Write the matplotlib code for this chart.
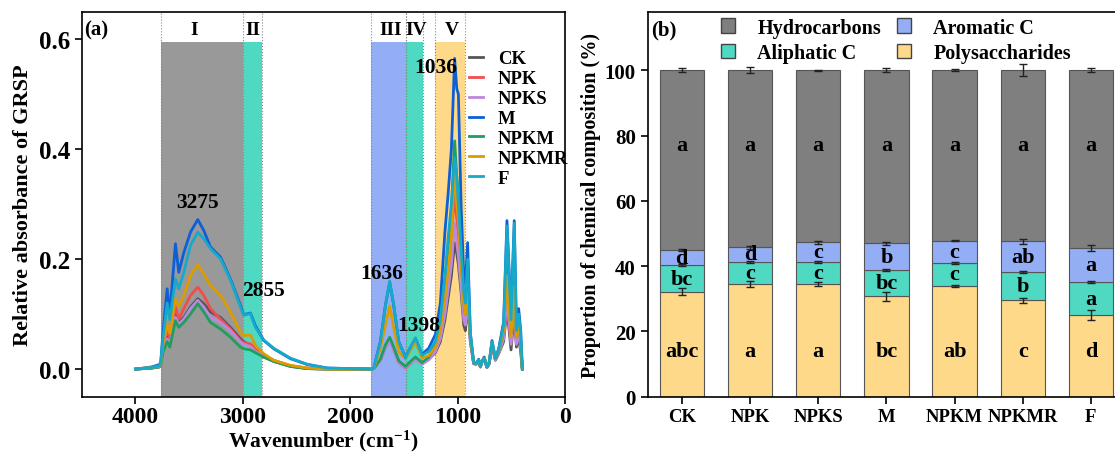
import matplotlib
matplotlib.use('Agg')
import matplotlib.pyplot as plt
from matplotlib.patches import Patch
import numpy as np

plt.rcParams['font.family'] = ['Liberation Serif', 'DejaVu Serif']
plt.rcParams['font.weight'] = 'bold'
plt.rcParams['axes.labelweight'] = 'bold'
plt.rcParams['mathtext.default'] = 'regular'

# ---------------- (a) FTIR spectra ----------------
wn = [4000, 3850, 3780, 3765, 3745, 3705, 3680, 3628, 3597, 3550,
      3488, 3420, 3364, 3302, 3209, 3116, 3023, 2992, 2930, 2884,
      2806, 2713, 2558, 2403, 2217, 1800, 1783, 1721, 1674, 1634,
      1597, 1550, 1488, 1440, 1395, 1333, 1271, 1209, 1163, 1120,
      1090, 1060, 1030, 1010, 995, 970, 945, 930, 909, 884,
      853, 830, 806, 790, 775, 754, 729, 710, 682, 651,
      620, 574, 543, 505, 475, 455, 434, 415, 400]

CK = [0, 0.002, 0.004, 0.006, 0.035, 0.060, 0.050, 0.101, 0.085, 0.094,
      0.113, 0.128, 0.119, 0.104, 0.094, 0.076, 0.055, 0.050, 0.043, 0.033,
      0.022, 0.014, 0.005, 0.001, 0.0, 0.0, 0.001, 0.016, 0.040, 0.054,
      0.037, 0.014, 0.004, 0.012, 0.018, 0.010, 0.018, 0.030, 0.050, 0.090,
      0.130, 0.170, 0.230, 0.210, 0.190, 0.140, 0.080, 0.070, 0.120, 0.050,
      0.010, 0.009, 0.015, 0.004, 0.013, 0.018, 0.003, 0.009, 0.042, 0.016,
      0.028, 0.050, 0.110, 0.035, 0.100, 0.040, 0.060, 0.030, 0.0]
NPK = [0, 0.002, 0.004, 0.007, 0.040, 0.070, 0.055, 0.113, 0.091, 0.110,
       0.134, 0.149, 0.134, 0.110, 0.091, 0.073, 0.052, 0.048, 0.046, 0.037,
       0.025, 0.016, 0.006, 0.002, 0.0, 0.0, 0.001, 0.016, 0.040, 0.052,
       0.036, 0.012, 0.002, 0.010, 0.018, 0.010, 0.018, 0.035, 0.060, 0.110,
       0.160, 0.220, 0.330, 0.270, 0.240, 0.170, 0.100, 0.090, 0.140, 0.055,
       0.010, 0.009, 0.015, 0.004, 0.013, 0.019, 0.003, 0.009, 0.045, 0.018,
       0.030, 0.060, 0.120, 0.050, 0.130, 0.050, 0.070, 0.045, 0.0]
NPKS = [0, 0.002, 0.004, 0.006, 0.033, 0.055, 0.046, 0.094, 0.082, 0.091,
        0.110, 0.125, 0.113, 0.094, 0.085, 0.070, 0.049, 0.045, 0.041, 0.032,
        0.025, 0.016, 0.006, 0.002, 0.0, 0.0, 0.001, 0.015, 0.038, 0.050,
        0.035, 0.012, 0.003, 0.011, 0.016, 0.009, 0.017, 0.032, 0.055, 0.100,
        0.145, 0.190, 0.265, 0.230, 0.205, 0.150, 0.090, 0.080, 0.130, 0.052,
        0.010, 0.009, 0.015, 0.004, 0.013, 0.018, 0.003, 0.009, 0.043, 0.017,
        0.029, 0.055, 0.130, 0.045, 0.120, 0.045, 0.065, 0.040, 0.0]
M = [0, 0.004, 0.008, 0.012, 0.065, 0.146, 0.100, 0.228, 0.176, 0.212,
     0.249, 0.272, 0.252, 0.222, 0.204, 0.164, 0.116, 0.099, 0.102, 0.079,
     0.052, 0.037, 0.019, 0.0085, 0.002, 0.0, 0.002, 0.050, 0.116, 0.158,
     0.116, 0.050, 0.022, 0.040, 0.055, 0.027, 0.038, 0.063, 0.120, 0.250,
     0.320, 0.400, 0.565, 0.510, 0.500, 0.300, 0.170, 0.155, 0.230, 0.067,
     0.013, 0.010, 0.018, 0.005, 0.015, 0.022, 0.004, 0.010, 0.052, 0.020,
     0.037, 0.086, 0.270, 0.100, 0.270, 0.080, 0.110, 0.070, 0.0]
NPKM = [0, 0.002, 0.004, 0.006, 0.030, 0.050, 0.040, 0.088, 0.076, 0.085,
        0.100, 0.119, 0.104, 0.085, 0.073, 0.058, 0.040, 0.037, 0.035, 0.030,
        0.022, 0.014, 0.005, 0.001, 0.0, 0.0, 0.001, 0.018, 0.044, 0.058,
        0.040, 0.015, 0.005, 0.014, 0.022, 0.012, 0.022, 0.045, 0.085, 0.160,
        0.220, 0.290, 0.415, 0.350, 0.320, 0.210, 0.120, 0.100, 0.160, 0.058,
        0.011, 0.010, 0.016, 0.005, 0.014, 0.020, 0.004, 0.010, 0.047, 0.019,
        0.033, 0.068, 0.190, 0.065, 0.170, 0.060, 0.085, 0.050, 0.0]
NPKMR = [0, 0.003, 0.005, 0.008, 0.045, 0.080, 0.065, 0.128, 0.113, 0.134,
         0.170, 0.190, 0.173, 0.152, 0.134, 0.104, 0.067, 0.061, 0.062, 0.043,
         0.028, 0.016, 0.007, 0.002, 0.0, 0.0, 0.001, 0.038, 0.080, 0.115,
         0.075, 0.032, 0.018, 0.035, 0.050, 0.020, 0.025, 0.040, 0.070, 0.130,
         0.180, 0.240, 0.370, 0.300, 0.270, 0.190, 0.120, 0.100, 0.150, 0.060,
         0.012, 0.010, 0.016, 0.005, 0.014, 0.020, 0.004, 0.010, 0.048, 0.020,
         0.034, 0.070, 0.170, 0.060, 0.150, 0.060, 0.080, 0.050, 0.0]
F = [0, 0.003, 0.006, 0.010, 0.055, 0.120, 0.090, 0.164, 0.146, 0.176,
     0.225, 0.249, 0.237, 0.219, 0.201, 0.162, 0.113, 0.098, 0.101, 0.076,
     0.053, 0.038, 0.020, 0.009, 0.002, 0.0, 0.002, 0.048, 0.115, 0.160,
     0.117, 0.050, 0.020, 0.040, 0.057, 0.025, 0.032, 0.050, 0.090, 0.170,
     0.240, 0.300, 0.385, 0.350, 0.300, 0.220, 0.140, 0.120, 0.200, 0.065,
     0.012, 0.010, 0.017, 0.005, 0.014, 0.020, 0.004, 0.010, 0.050, 0.020,
     0.036, 0.080, 0.260, 0.090, 0.265, 0.070, 0.100, 0.065, 0.0]

spectra = [('CK', CK, '#555555'), ('NPK', NPK, '#f24d4d'), ('NPKS', NPKS, '#bb88dd'),
           ('M', M, '#0d5fd8'), ('NPKM', NPKM, '#1f9e5c'), ('NPKMR', NPKMR, '#dc9c00'),
           ('F', F, '#17a9c9')]

# shaded band regions (wavenumber ranges)
band_names = ['I', 'II', 'III', 'IV', 'V']
band_lo = [3000, 2820, 1485, 1320, 930]
band_hi = [3760, 3000, 1810, 1480, 1210]
band_colors = ['#999999', '#4fd8c2', '#94aef5', '#4fd8c2', '#ffd98a']
band_label_x = [3450, 2905, 1630, 1385, 1055]

peak_labels = ['3275', '2855', '1636', '1398', '1036']
peak_x = [3426, 2809, 1712, 1367, 1209]
peak_y = [0.304, 0.143, 0.175, 0.081, 0.550]

# ---------------- (b) chemical composition ----------------
treatments = ['CK', 'NPK', 'NPKS', 'M', 'NPKM', 'NPKMR', 'F']
polysaccharides = [32.2, 34.5, 34.4, 30.7, 33.9, 29.5, 25.1]
aliphatic = [8.0, 6.9, 7.0, 8.1, 7.2, 8.7, 9.9]
aromatic = [4.8, 4.4, 5.9, 8.2, 6.7, 9.4, 10.5]
hydrocarbons = [55.0, 54.2, 52.7, 53.0, 52.2, 52.4, 54.5]
err_poly = [1.2, 0.9, 0.6, 1.5, 0.4, 0.7, 1.5]
err_aliph = [0.3, 0.3, 0.3, 0.3, 0.3, 0.3, 0.3]
err_arom = [0.3, 0.4, 0.5, 0.4, 0.2, 0.7, 1.0]
err_hydro = [0.6, 0.9, 0.1, 0.6, 0.3, 1.8, 0.6]
let_poly = ['abc', 'a', 'a', 'bc', 'ab', 'c', 'd']
let_aliph = ['bc', 'c', 'c', 'bc', 'c', 'b', 'a']
let_arom = ['d', 'd', 'c', 'b', 'c', 'ab', 'a']
let_hydro = ['a', 'a', 'a', 'a', 'a', 'a', 'a']

fig = plt.figure(figsize=(11.15, 4.56), dpi=100)
ax1 = fig.add_axes([0.0733, 0.128, 0.4337, 0.8443])
ax2 = fig.add_axes([0.5809, 0.128, 0.4281, 0.8443])

# ---- panel a ----
ylo, yhi = -0.05, 0.65
shade_top = 0.595
for lo, hi, c in zip(band_lo, band_hi, band_colors):
    ax1.axvspan(lo, hi, ymin=0, ymax=(shade_top - ylo) / (yhi - ylo), color=c, lw=0, zorder=0)
for x in sorted(set(band_lo + band_hi)):
    ax1.axvline(x, color='#888888', lw=0.8, ls=':', zorder=1)
for name, xl in zip(band_names, band_label_x):
    ax1.text(xl, 0.618, name, ha='center', va='center', fontsize=14, fontweight='bold')

for name, vals, c in spectra:
    ax1.plot(wn, vals, color=c, lw=2, label=name, zorder=3)

for lab, x, y in zip(peak_labels, peak_x, peak_y):
    ax1.text(x, y, lab, ha='center', va='center', fontsize=15.5, fontweight='bold', zorder=5)

ax1.set_xlim(4500, 0)
ax1.set_ylim(ylo, yhi)
ax1.set_xticks([4000, 3000, 2000, 1000, 0])
ax1.set_yticks([0.0, 0.2, 0.4, 0.6])
ax1.set_yticklabels(['0.0', '0.2', '0.4', '0.6'])
ax1.tick_params(axis='y', labelsize=18, width=1.2, length=5)
ax1.tick_params(axis='x', labelsize=17, width=1.2, length=5, pad=2)
ax1.set_xlabel('Wavenumber (cm$^{-1}$)', fontsize=15.5, labelpad=0)
ax1.set_ylabel('Relative absorbance of GRSP', fontsize=16, labelpad=4)
for s in ax1.spines.values():
    s.set_linewidth(1.2)
ax1.text(0.005, 0.98, '(a)', transform=ax1.transAxes, ha='left', va='top',
         fontsize=15, fontweight='bold')
ax1.legend(loc='upper left', bbox_to_anchor=(0.80, 0.9), frameon=False,
           fontsize=13.5, handlelength=0.75, handletextpad=0.8, labelspacing=0.15,
           borderpad=0, borderaxespad=0)

# ---- panel b ----
x = np.arange(len(treatments))
w = 0.65
comp = [('Polysaccharides', polysaccharides, err_poly, let_poly, '#fed98a'),
        ('Aliphatic C', aliphatic, err_aliph, let_aliph, '#4fd8c2'),
        ('Aromatic C', aromatic, err_arom, let_arom, '#94aef5'),
        ('Hydrocarbons', hydrocarbons, err_hydro, let_hydro, '#7f7f7f')]
bottom = np.zeros(len(treatments))
for name, vals, errs, lets, c in comp:
    vals = np.array(vals)
    ax2.bar(x, vals, w, bottom=bottom, color=c, edgecolor='#555555', lw=0.8, zorder=2)
    top = bottom + vals
    ax2.errorbar(x, top, yerr=errs, fmt='none', ecolor='#222222', elinewidth=1,
                 capsize=3, capthick=1, zorder=3)
    for xi, b, t, l in zip(x, bottom, top, lets):
        if name == 'Polysaccharides':
            ty = 14
        elif name == 'Hydrocarbons':
            ty = 77
        else:
            ty = (b + t) / 2
        ax2.text(xi, ty, l, ha='center', va='center', fontsize=16, fontweight='bold', zorder=4)
    bottom = top

ax2.set_xlim(-0.5, 6.5)
ax2.set_ylim(0, 118)
ax2.set_xticks(x)
ax2.set_xticklabels(treatments)
ax2.set_yticks([0, 20, 40, 60, 80, 100])
ax2.tick_params(axis='y', labelsize=15, width=1.2, length=5)
ax2.tick_params(axis='x', labelsize=13.5, width=1.2, length=5)
ax2.set_ylabel('Proportion of chemical composition (%)', fontsize=14.5, labelpad=3)
for s in ax2.spines.values():
    s.set_linewidth(1.2)
ax2.text(0.008, 0.98, '(b)', transform=ax2.transAxes, ha='left', va='top',
         fontsize=15, fontweight='bold')
handles = [Patch(facecolor='#7f7f7f', edgecolor='#444444', label='Hydrocarbons'),
           Patch(facecolor='#4fd8c2', edgecolor='#444444', label='Aliphatic C'),
           Patch(facecolor='#94aef5', edgecolor='#444444', label='Aromatic C'),
           Patch(facecolor='#fed98a', edgecolor='#444444', label='Polysaccharides')]
ax2.legend(handles=handles, ncol=2, loc='upper left', bbox_to_anchor=(0.145, 0.995),
           frameon=False, fontsize=14.5, handlelength=0.7, handleheight=0.7,
           handletextpad=1.1, columnspacing=0.8, labelspacing=0.25,
           borderpad=0.2, borderaxespad=0)

fig.savefig('out.png', dpi=100)
